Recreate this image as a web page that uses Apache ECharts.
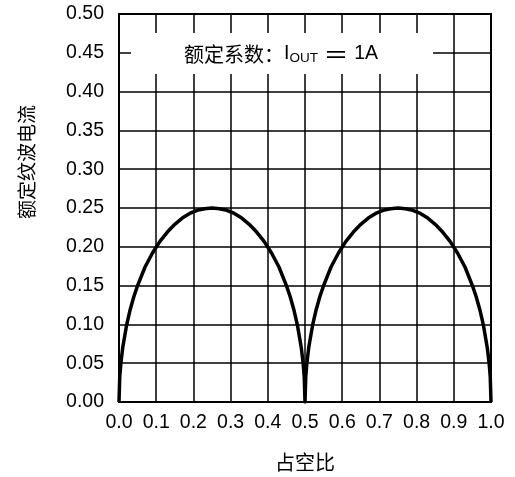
<!DOCTYPE html>
<html>
<head>
<meta charset="utf-8">
<script src="https://cdn.jsdelivr.net/npm/echarts@6/dist/echarts.min.js"></script>
<style>
  html, body { margin: 0; padding: 0; background: #fff; }
  #chart { width: 515px; height: 477px; }
</style>
</head>
<body>
<div id="chart"></div>
<script>
// Duty cycle (x) and normalized ripple current (y)
var dutyCycle = [
  0, 0.002, 0.005, 0.01, 0.02, 0.03, 0.04, 0.05, 0.07, 0.09, 0.11, 0.13, 0.15, 0.17, 0.19,
  0.21, 0.23, 0.25, 0.27, 0.29, 0.31, 0.33, 0.35, 0.37, 0.39, 0.41, 0.43, 0.45, 0.46, 0.47,
  0.48, 0.49, 0.495, 0.498, 0.5,
  0.502, 0.505, 0.51, 0.52, 0.53, 0.54, 0.55, 0.57, 0.59, 0.61, 0.63, 0.65, 0.67, 0.69,
  0.71, 0.73, 0.75, 0.77, 0.79, 0.81, 0.83, 0.85, 0.87, 0.89, 0.91, 0.93, 0.95, 0.96, 0.97,
  0.98, 0.99, 0.995, 0.998, 1.0
];
var rippleRatio = [
  0, 0.032, 0.050, 0.070, 0.098, 0.119, 0.136, 0.150, 0.174, 0.192, 0.207, 0.219, 0.229, 0.237, 0.243,
  0.247, 0.249, 0.250, 0.249, 0.247, 0.243, 0.237, 0.229, 0.219, 0.207, 0.192, 0.174, 0.150, 0.136, 0.119,
  0.098, 0.070, 0.050, 0.032, 0,
  0.032, 0.050, 0.070, 0.098, 0.119, 0.136, 0.150, 0.174, 0.192, 0.207, 0.219, 0.229, 0.237, 0.243,
  0.247, 0.249, 0.250, 0.249, 0.247, 0.243, 0.237, 0.229, 0.219, 0.207, 0.192, 0.174, 0.150, 0.136, 0.119,
  0.098, 0.070, 0.050, 0.032, 0
];

var xAxisName = '占空比';
var yAxisName = '额定纹波电流';
var xTicks = { min: 0, max: 1, step: 0.1, digits: 1 };
var yTicks = { min: 0, max: 0.5, step: 0.05, digits: 2 };

var latin = '"Liberation Sans", Arial, sans-serif';
var cjk = '"Noto Sans CJK SC", sans-serif';

var points = dutyCycle.map(function (d, i) { return [d, rippleRatio[i]]; });

var chart = echarts.init(document.getElementById('chart'), null, { renderer: 'canvas' });

chart.setOption({
  backgroundColor: '#ffffff',
  animation: false,
  grid: {
    left: 119, right: 24, top: 14, bottom: 75,
    show: true, borderColor: '#000', borderWidth: 2, backgroundColor: 'transparent'
  },
  xAxis: {
    type: 'value',
    min: xTicks.min, max: xTicks.max, interval: xTicks.step,
    name: xAxisName,
    nameLocation: 'middle',
    nameGap: 50,
    nameTextStyle: { fontFamily: cjk, fontSize: 20, color: '#000' },
    axisLine: { show: true, lineStyle: { color: '#000', width: 2 } },
    axisTick: { show: false },
    axisLabel: {
      color: '#000', fontFamily: latin, fontSize: 19.5, margin: 11,
      formatter: function (v) { return v.toFixed(xTicks.digits); }
    },
    splitLine: { show: true, lineStyle: { color: '#000', width: 1.5 } }
  },
  yAxis: {
    type: 'value',
    min: yTicks.min, max: yTicks.max, interval: yTicks.step,
    axisLine: { show: true, lineStyle: { color: '#000', width: 2 } },
    axisTick: { show: false },
    axisLabel: {
      color: '#000', fontFamily: latin, fontSize: 19.5, margin: 15,
      formatter: function (v) { return v.toFixed(yTicks.digits); }
    },
    splitLine: { show: true, lineStyle: { color: '#000', width: 1.5 } }
  },
  graphic: [
    {
      type: 'rect',
      shape: { x: 131, y: 33, width: 302, height: 41 },
      style: { fill: '#fff' },
      z: 50
    },
    {
      type: 'text',
      x: 281, y: 54,
      z: 51,
      style: {
        text: '{cn|额定系数：}{en|I}{sub|OUT}{eq| ＝ }{en|1A}',
        align: 'center',
        verticalAlign: 'middle',
        rich: {
          cn: { fontFamily: cjk, fontSize: 20, fill: '#000' },
          en: { fontFamily: latin, fontSize: 19.5, fill: '#000' },
          sub: { fontFamily: latin, fontSize: 13.5, fill: '#000', padding: [9, 0, 0, 0] },
          eq: { fontFamily: cjk, fontSize: 25, fill: '#000' }
        }
      }
    },
    {
      type: 'text',
      x: 27, y: 162,
      rotation: Math.PI / 2,
      style: {
        text: yAxisName,
        fontFamily: cjk, fontSize: 19, fill: '#000',
        align: 'center', verticalAlign: 'middle'
      }
    }
  ],
  series: [{
    type: 'line',
    data: points,
    showSymbol: false,
    smooth: false,
    lineStyle: { color: '#000', width: 3.5, join: 'round' },
    z: 10
  }]
});
</script>
</body>
</html>
